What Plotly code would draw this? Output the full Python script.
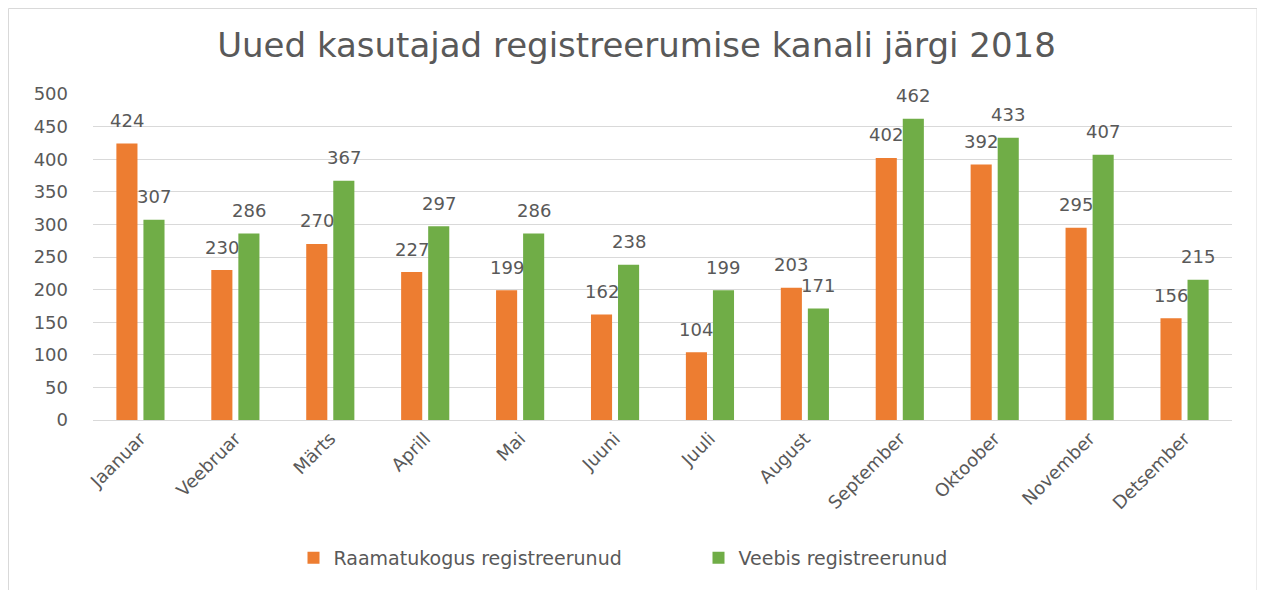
import plotly.graph_objects as go

months = ["Jaanuar", "Veebruar", "Märts", "Aprill", "Mai", "Juuni", "Juuli",
          "August", "September", "Oktoober", "November", "Detsember"]
raamatukogus = [424, 230, 270, 227, 199, 162, 104, 203, 402, 392, 295, 156]
veebis = [307, 286, 367, 297, 286, 238, 199, 171, 462, 433, 407, 215]
series_names = ["Raamatukogus registreerunud", "Veebis registreerunud"]
colors = ["#ED7D31", "#70AD47"]
title = "Uued kasutajad registreerumise kanali järgi 2018"
yticks = [0, 50, 100, 150, 200, 250, 300, 350, 400, 450, 500]

FONT = "DejaVu Sans"
TXT = "#595959"

W, H = 1257, 582
L, T, PW, PH = 85, 86, 1139, 326

fig = go.Figure()
for name, vals, col in zip(series_names, [raamatukogus, veebis], colors):
    fig.add_trace(go.Bar(x=months, y=vals, name=name, marker=dict(color=col, line=dict(width=0))))

# data labels above each bar
annotations = []
for vals, xs in [(raamatukogus, -13.5), (veebis, 13.5)]:
    for m, v in zip(months, vals):
        annotations.append(dict(x=m, y=v, xref="x", yref="y", text=str(v), showarrow=False,
                                xshift=xs, yshift=23, yanchor="middle",
                                font=dict(family=FONT, size=18, color=TXT)))

fig.update_layout(
    width=W, height=H,
    margin=dict(l=L, r=W - L - PW, t=T, b=H - T - PH),
    paper_bgcolor="white", plot_bgcolor="white",
    title=dict(text=title, x=0.5, xanchor="center", y=1 - 37 / H, yanchor="middle",
               font=dict(family=FONT, size=34, color=TXT)),
    barmode="group", bargap=0.43, bargroupgap=0.22,
    font=dict(family=FONT, color=TXT),
    xaxis=dict(tickangle=-45, tickfont=dict(family=FONT, size=18, color=TXT),
               showgrid=False, showline=True, linecolor="#d9d9d9", linewidth=1, ticks=""),
    yaxis=dict(range=[0, 500], tickvals=yticks, tickfont=dict(family=FONT, size=18, color=TXT),
               showgrid=True, gridcolor="#d9d9d9", gridwidth=1, zeroline=False,
               showline=False, ticks="", ticklabelstandoff=24),
    legend=dict(orientation="h", x=0.5 + 36 / PW, xanchor="center", y=-(550 - T - PH) / PH,
                yanchor="middle",
                font=dict(family=FONT, size=19, color=TXT), traceorder="normal",
                entrywidth=360, entrywidthmode="pixels"),
    annotations=annotations,
    shapes=[dict(type="rect", xref="paper", yref="paper",
                 x0=(0.5 - L) / PW, x1=(1249 - L) / PW,
                 y0=(T + PH - 640) / PH, y1=(T + PH - 0.5) / PH,
                 line=dict(color="#d9d9d9", width=1), fillcolor="rgba(0,0,0,0)", layer="below")],
)

fig.write_html("out.html")
